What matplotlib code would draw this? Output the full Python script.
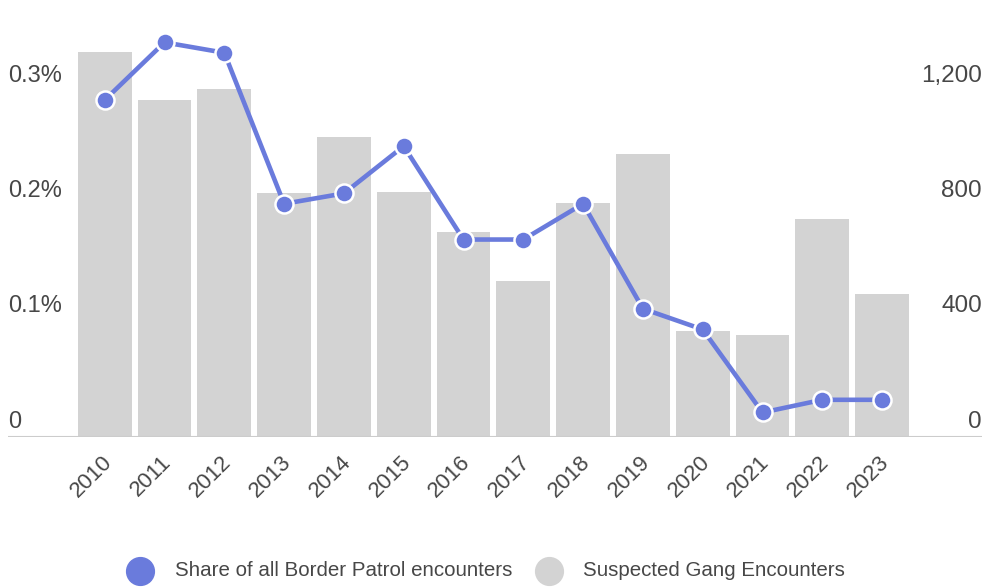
import matplotlib
matplotlib.use("Agg")
import matplotlib.pyplot as plt
from matplotlib.lines import Line2D
from matplotlib import transforms
import numpy as np

# values
years = ["2010", "2011", "2012", "2013", "2014", "2015", "2016",
         "2017", "2018", "2019", "2020", "2021", "2022", "2023"]
gang_encounters = [1336, 1167, 1206, 844, 1039, 850, 709,
                   540, 812, 980, 366, 353, 754, 495]
share_pct = [0.292, 0.342, 0.333, 0.202, 0.211, 0.252, 0.171,
             0.171, 0.202, 0.111, 0.093, 0.021, 0.032, 0.032]
left_ticks = [0, 0.1, 0.2, 0.3]
left_labels = ["0", "0.1%", "0.2%", "0.3%"]
right_ticks = [0, 400, 800, 1200]
right_labels = ["0", "400", "800", "1,200"]
legend_labels = ["Share of all Border Patrol encounters", "Suspected Gang Encounters"]

LINE_C = "#6a7bdc"
BAR_C = "#d3d3d3"
TEXT_C = "#474747"
W, H = 985, 587

plt.rcParams["font.family"] = ["Liberation Sans", "DejaVu Sans"]

fig = plt.figure(figsize=(W / 100, H / 100), dpi=100)
base_px = 436.7
top_px = 20
ax = fig.add_axes([8 / W, (H - base_px) / H, 974 / W, (base_px - top_px) / H])
x = np.arange(len(years))

pitch = 59.8
c0 = 104.7
xl = -(c0 - 8) / pitch
xr = (len(years) - 1) + (982 - (c0 + 13 * pitch)) / pitch
ax.set_xlim(xl, xr)

ax.bar(x, gang_encounters, width=0.9, color=BAR_C, zorder=1)
ymax_bar = (base_px - top_px) / 115.3 * 400
ax.set_ylim(0, ymax_bar)
ax.axhline(0, color="#cccccc", lw=1.5, zorder=2)

ax2 = ax.twinx()
ax2.set_ylim(0, ymax_bar / 4000)
ax2.plot(x, share_pct, color=LINE_C, lw=3.3, marker="o", ms=13,
         mfc=LINE_C, mec="white", mew=1.8, zorder=3)

for a in (ax, ax2):
    for s in a.spines.values():
        s.set_visible(False)
    a.set_yticks([])
ax2.set_xlim(xl, xr)

ax.set_xticks(x)
ax.set_xticklabels(years, rotation=45, ha="right", va="center",
                   rotation_mode="anchor", fontsize=16, color=TEXT_C)
ax.tick_params(axis="x", length=0, pad=16)
shift = transforms.ScaledTranslation(4 / 100, 0, fig.dpi_scale_trans)
for lbl in ax.get_xticklabels():
    lbl.set_transform(lbl.get_transform() + shift)

up = transforms.offset_copy(ax2.transData, fig=fig, x=0, y=15, units="dots")
lt = transforms.blended_transform_factory(ax2.transAxes, up)
for v, lab in zip(left_ticks, left_labels):
    ax2.text(0, v, lab, transform=lt, ha="left", va="center",
             fontsize=17, color=TEXT_C)

upr = transforms.offset_copy(ax.transData, fig=fig, x=0, y=15, units="dots")
rt = transforms.blended_transform_factory(ax.transAxes, upr)
for v, lab in zip(right_ticks, right_labels):
    ax.text(1, v, lab, transform=rt, ha="right", va="center",
            fontsize=17.5, color=TEXT_C)

# legend drawn by hand at the bottom
ly = (H - 571) / H
for cx, tx, col, lab in [(140, 175, LINE_C, legend_labels[0]),
                         (549, 583, BAR_C, legend_labels[1])]:
    fig.add_artist(Line2D([cx / W], [ly], marker="o", ms=20, color=col,
                          transform=fig.transFigure))
    fig.text(tx / W, ly, lab, ha="left", va="center", fontsize=14.8,
             color=TEXT_C)

fig.savefig("out.png", dpi=100)
